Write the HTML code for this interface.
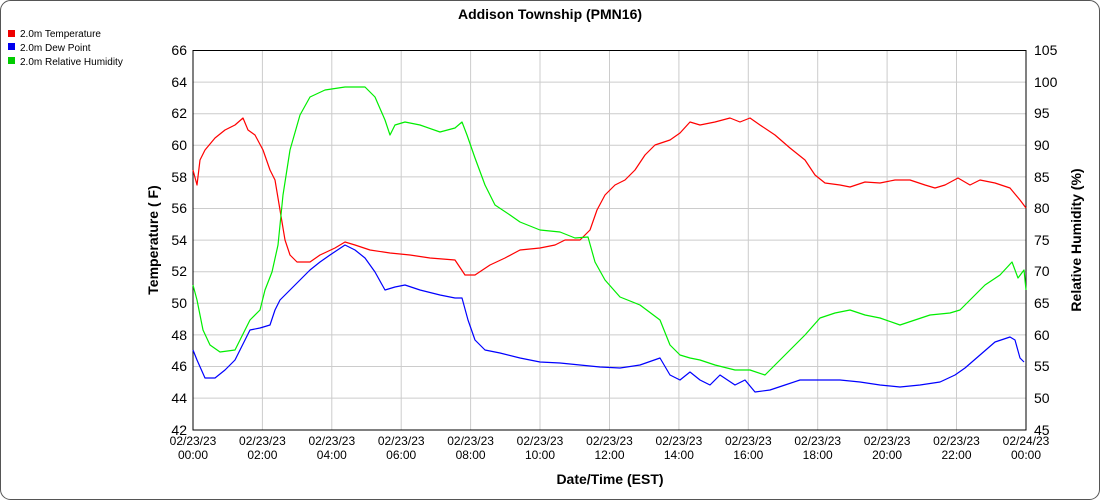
<!DOCTYPE html>
<html><head><style>body{margin:0;background:#fff}svg{display:block}</style></head><body>
<svg width="1100" height="500" viewBox="0 0 1100 500" xmlns="http://www.w3.org/2000/svg" font-family="Liberation Sans, sans-serif">
<rect x="0.5" y="0.5" width="1099" height="499" rx="10" fill="#fff" stroke="#555"/>
<text x="550" y="19" font-size="14" font-weight="bold" text-anchor="middle">Addison Township (PMN16)</text>
<rect x="8" y="30" width="7" height="7" fill="#e00"/><text x="20" y="37" font-size="10">2.0m Temperature</text>
<rect x="8" y="43" width="7" height="7" fill="#00e"/><text x="20" y="51" font-size="10">2.0m Dew Point</text>
<rect x="8" y="57" width="7" height="7" fill="#0c0"/><text x="20" y="65" font-size="10">2.0m Relative Humidity</text>
<g stroke="#ccc" stroke-width="1">
<line x1="193" x2="1026" y1="82.1" y2="82.1"/><line x1="193" x2="1026" y1="113.7" y2="113.7"/><line x1="193" x2="1026" y1="145.3" y2="145.3"/><line x1="193" x2="1026" y1="176.9" y2="176.9"/><line x1="193" x2="1026" y1="208.5" y2="208.5"/><line x1="193" x2="1026" y1="240.1" y2="240.1"/><line x1="193" x2="1026" y1="271.7" y2="271.7"/><line x1="193" x2="1026" y1="303.3" y2="303.3"/><line x1="193" x2="1026" y1="334.9" y2="334.9"/><line x1="193" x2="1026" y1="366.5" y2="366.5"/><line x1="193" x2="1026" y1="398.1" y2="398.1"/>
<line x1="262.4" x2="262.4" y1="50" y2="430"/><line x1="331.8" x2="331.8" y1="50" y2="430"/><line x1="401.2" x2="401.2" y1="50" y2="430"/><line x1="470.6" x2="470.6" y1="50" y2="430"/><line x1="540" x2="540" y1="50" y2="430"/><line x1="609.5" x2="609.5" y1="50" y2="430"/><line x1="678.9" x2="678.9" y1="50" y2="430"/><line x1="748.3" x2="748.3" y1="50" y2="430"/><line x1="817.7" x2="817.7" y1="50" y2="430"/><line x1="887.1" x2="887.1" y1="50" y2="430"/><line x1="956.5" x2="956.5" y1="50" y2="430"/>
</g>
<rect x="193" y="50.5" width="833" height="379.5" fill="none" stroke="#000"/>
<g fill="none" stroke-width="1.2" stroke-linejoin="round">
<polyline stroke="#f00" points="193,170 197,185 200,160 205,150 215,138 225,130 235,125 243,118 248,130 255,135 263,150 270,170 275,180 280,210 285,240 290,255 297,262 310,262 320,255 335,248 345,242 355,245 370,250 390,253 410,255 430,258 455,260 465,275 475,275 490,265 505,258 520,250 540,248 555,245 565,240 580,240 590,230 597,210 605,195 615,185 625,180 635,170 645,155 655,145 670,140 680,133 690,122 700,125 715,122 730,118 740,122 750,118 760,125 775,135 790,148 805,160 815,175 825,183 840,185 850,187 865,182 880,183 895,180 910,180 925,185 935,188 945,185 958,178 970,185 980,180 995,183 1010,188 1020,200 1026,208"/>
<polyline stroke="#00f" points="193,350 197,360 205,378 215,378 225,370 235,360 245,340 250,330 260,328 270,325 275,310 280,300 290,290 300,280 310,270 320,262 330,255 345,245 355,250 365,258 375,272 385,290 395,287 405,285 420,290 440,295 455,298 462,298 468,320 475,340 485,350 500,353 520,358 540,362 560,363 580,365 600,367 620,368 640,365 660,358 670,375 680,380 690,372 700,380 710,385 720,375 735,385 745,380 755,392 770,390 785,385 800,380 815,380 840,380 860,382 880,385 900,387 920,385 940,382 955,375 965,368 980,355 995,342 1010,337 1015,340 1020,358 1024,362"/>
<polyline stroke="#0e0" points="193,285 197,300 203,330 210,345 220,352 235,350 245,330 250,320 260,310 265,290 272,272 278,245 283,195 290,150 300,115 310,97 325,90 345,87 365,87 375,97 385,120 390,135 395,125 405,122 420,125 440,132 455,128 462,122 467,135 475,158 485,185 495,205 510,215 520,222 540,230 560,232 575,238 588,237 595,262 605,280 620,297 640,305 660,320 670,345 680,355 690,358 700,360 715,365 735,370 750,370 765,375 775,365 790,350 805,335 820,318 835,313 850,310 865,315 880,318 900,325 915,320 930,315 950,313 960,310 970,300 985,285 1000,275 1012,262 1018,278 1024,270 1026,290"/>
</g>
<g font-size="14" text-anchor="end">
<text x="187" y="55">66</text><text x="187" y="87">64</text><text x="187" y="118">62</text><text x="187" y="150">60</text><text x="187" y="182">58</text><text x="187" y="213">56</text><text x="187" y="245">54</text><text x="187" y="276">52</text><text x="187" y="308">50</text><text x="187" y="340">48</text><text x="187" y="371">46</text><text x="187" y="403">44</text><text x="187" y="435">42</text>
</g>
<g font-size="14">
<text x="1034" y="55">105</text><text x="1034" y="87">100</text><text x="1034" y="118">95</text><text x="1034" y="150">90</text><text x="1034" y="182">85</text><text x="1034" y="213">80</text><text x="1034" y="245">75</text><text x="1034" y="276">70</text><text x="1034" y="308">65</text><text x="1034" y="340">60</text><text x="1034" y="371">55</text><text x="1034" y="403">50</text><text x="1034" y="435">45</text>
</g>
<g font-size="12" text-anchor="middle">
<text x="193" y="445">02/23/23</text><text x="193" y="459">00:00</text>
<text x="262.4" y="445">02/23/23</text><text x="262.4" y="459">02:00</text>
<text x="331.8" y="445">02/23/23</text><text x="331.8" y="459">04:00</text>
<text x="401.2" y="445">02/23/23</text><text x="401.2" y="459">06:00</text>
<text x="470.6" y="445">02/23/23</text><text x="470.6" y="459">08:00</text>
<text x="540" y="445">02/23/23</text><text x="540" y="459">10:00</text>
<text x="609.5" y="445">02/23/23</text><text x="609.5" y="459">12:00</text>
<text x="678.9" y="445">02/23/23</text><text x="678.9" y="459">14:00</text>
<text x="748.3" y="445">02/23/23</text><text x="748.3" y="459">16:00</text>
<text x="817.7" y="445">02/23/23</text><text x="817.7" y="459">18:00</text>
<text x="887.1" y="445">02/23/23</text><text x="887.1" y="459">20:00</text>
<text x="956.5" y="445">02/23/23</text><text x="956.5" y="459">22:00</text>
<text x="1026" y="445">02/24/23</text><text x="1026" y="459">00:00</text>
</g>
<text x="610" y="484" font-size="14" font-weight="bold" text-anchor="middle">Date/Time (EST)</text>
<text transform="translate(158,240) rotate(-90)" font-size="14" font-weight="bold" text-anchor="middle">Temperature ( F)</text>
<text transform="translate(1081,240) rotate(-90)" font-size="14" font-weight="bold" text-anchor="middle">Relative Humidity (%)</text>
</svg>
</body></html>
